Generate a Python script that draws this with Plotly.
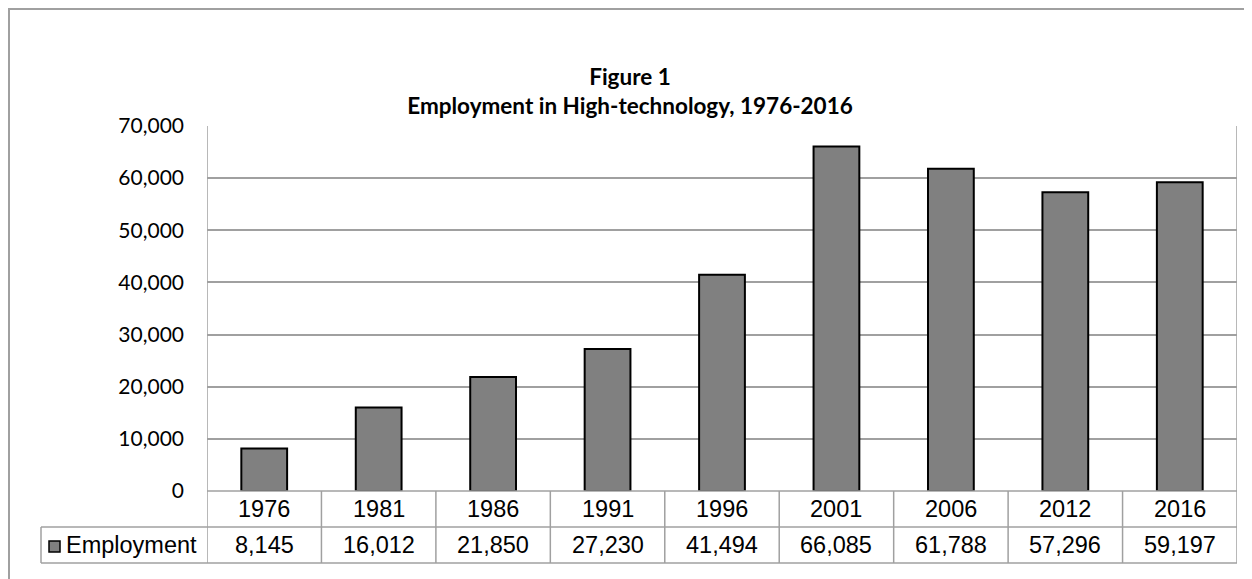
import plotly.graph_objects as go

# Data
years = ["1976", "1981", "1986", "1991", "1996", "2001", "2006", "2012", "2016"]
employment = [8145, 16012, 21850, 27230, 41494, 66085, 61788, 57296, 59197]
series_name = "Employment"

OFF = 8  # page body margin
W, H = 1252 - OFF, 579 - OFF
L, T = 207 - OFF, 126 - OFF
R = 15
pw = 1030
ph = 365
B = H - T - ph


def px_x(x):
    # screenshot pixel -> paper x
    return (x - OFF - L) / pw


def px_y(y):
    # screenshot pixel -> paper y
    return (T + ph - (y - OFF)) / ph


grid = "#a0a0a0"
fig = go.Figure()
fig.add_trace(go.Bar(
    x=years, y=employment, name=series_name, width=0.4,
    marker=dict(color="#808080", line=dict(color="black", width=2)),
))

shapes = []
# outer chart frame
shapes.append(dict(type="rect", xref="paper", yref="paper",
                   x0=px_x(9), x1=px_x(1300), y0=px_y(700), y1=px_y(9),
                   line=dict(color="#a0a0a0", width=2)))
# data table horizontal lines
for yy, x0 in [(491, 207), (527, 41), (563, 41)]:
    shapes.append(dict(type="line", xref="paper", yref="paper",
                       x0=px_x(x0), x1=1, y0=px_y(yy), y1=px_y(yy),
                       line=dict(color=grid, width=1.5)))
# legend cell left edge
shapes.append(dict(type="line", xref="paper", yref="paper",
                   x0=px_x(41), x1=px_x(41), y0=px_y(527), y1=px_y(563),
                   line=dict(color=grid, width=1.5)))
# column separators
for i in range(len(years) + 1):
    top = 1 if i in (0, len(years)) else 0
    shapes.append(dict(type="line", xref="x", yref="paper",
                       x0=i - 0.5, x1=i - 0.5, y0=px_y(563), y1=top,
                       line=dict(color=grid, width=1.5)))
# legend key
shapes.append(dict(type="rect", xref="paper", yref="paper",
                   x0=px_x(49), x1=px_x(60), y0=px_y(552), y1=px_y(541),
                   fillcolor="#808080", line=dict(color="black", width=1.5)))

table_font = dict(family="Liberation Sans, Arial", size=23.5, color="black")
annotations = []
for i, (yr, v) in enumerate(zip(years, employment)):
    annotations.append(dict(x=i, y=px_y(509), xref="x", yref="paper", text=yr,
                            showarrow=False, font=table_font, yanchor="middle"))
    annotations.append(dict(x=i, y=px_y(545), xref="x", yref="paper",
                            text=f"{v:,}", showarrow=False, font=table_font,
                            yanchor="middle"))
annotations.append(dict(x=px_x(64), y=px_y(545), xref="paper", yref="paper",
                        text=series_name, showarrow=False, font=table_font,
                        xanchor="left", yanchor="middle"))

fig.update_layout(
    width=W, height=H,
    margin=dict(l=L, r=R, t=T, b=B),
    paper_bgcolor="white", plot_bgcolor="white",
    showlegend=False,
    title=dict(text="<b>Figure 1<br>Employment in High-technology, 1976-2016</b>",
               x=(630 - OFF) / W, xanchor="center", y=1 - (85 - OFF) / H,
               yanchor="middle", yref="container",
               font=dict(family="Lato", size=22.5, color="black")),
    xaxis=dict(type="category", range=[-0.5, len(years) - 0.5],
               showticklabels=False, showgrid=False, zeroline=False,
               showline=False, ticks=""),
    yaxis=dict(range=[0, 70000], dtick=10000, tickformat=",",
               showgrid=True, gridcolor=grid, gridwidth=1.5,
               zeroline=False, showline=False, ticks="",
               ticklabelstandoff=22,
               tickfont=dict(family="Lato", size=21, color="black")),
    shapes=shapes, annotations=annotations,
)

fig.write_html("out.html")
